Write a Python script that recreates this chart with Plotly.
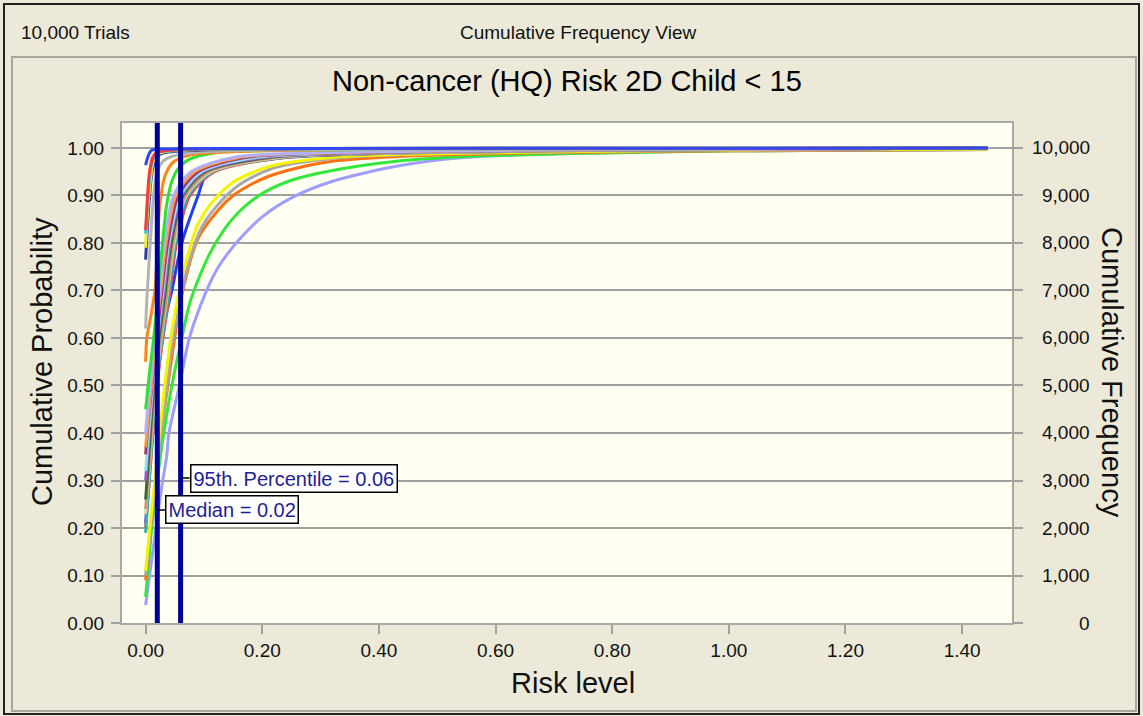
import plotly.graph_objects as go

# ---------------- data ----------------
TITLE = "Non-cancer (HQ) Risk 2D Child < 15"
HEADER_LEFT = "10,000 Trials"
HEADER_CENTER = "Cumulative Frequency View"

X_TICKS = [0.0, 0.2, 0.4, 0.6, 0.8, 1.0, 1.2, 1.4]
Y_TICKS = [0.0, 0.1, 0.2, 0.3, 0.4, 0.5, 0.6, 0.7, 0.8, 0.9, 1.0]
FREQ_TICKS = [0, 1000, 2000, 3000, 4000, 5000, 6000, 7000, 8000, 9000, 10000]
FREQ_LABELS = ["0", "1,000", "2,000", "3,000", "4,000", "5,000",
               "6,000", "7,000", "8,000", "9,000", "10,000"]

MEDIAN = 0.02
P95 = 0.06

# slow-rising curves
x_lavender_slow = [0, 0.010, 0.019, 0.028, 0.036, 0.040, 0.058, 0.075, 0.093, 0.110, 0.125, 0.159, 0.200, 0.250, 0.318, 0.432, 0.546, 0.75, 1.0, 1.444]
p_lavender_slow = [0.038, 0.13, 0.21, 0.29, 0.35, 0.40, 0.50, 0.60, 0.665, 0.715, 0.75, 0.805, 0.855, 0.895, 0.929, 0.962, 0.980, 0.989, 0.994, 0.997]

x_green_slow = [0, 0.006, 0.012, 0.022, 0.031, 0.045, 0.062, 0.076, 0.090, 0.105, 0.120, 0.145, 0.170, 0.204, 0.250, 0.318, 0.43, 0.55, 0.8, 1.0, 1.444]
p_green_slow = [0.055, 0.14, 0.22, 0.32, 0.40, 0.50, 0.60, 0.675, 0.722, 0.765, 0.80, 0.845, 0.877, 0.907, 0.932, 0.952, 0.972, 0.982, 0.99, 0.994, 0.997]

x_orange_slow = [0, 0.006, 0.012, 0.018, 0.025, 0.037, 0.045, 0.062, 0.090, 0.125, 0.150, 0.176, 0.210, 0.260, 0.320, 0.45, 0.7, 1.0, 1.444]
p_orange_slow = [0.09, 0.17, 0.24, 0.31, 0.39, 0.49, 0.56, 0.69, 0.81, 0.87, 0.90, 0.92, 0.94, 0.958, 0.972, 0.983, 0.99, 0.994, 0.997]

x_gray_slow = [0, 0.005, 0.010, 0.018, 0.026, 0.035, 0.046, 0.055, 0.070, 0.095, 0.120, 0.160, 0.220, 0.320, 0.45, 0.7, 1.0, 1.444]
p_gray_slow = [0.10, 0.16, 0.22, 0.30, 0.39, 0.48, 0.59, 0.65, 0.74, 0.83, 0.875, 0.922, 0.958, 0.978, 0.986, 0.991, 0.995, 0.997]

x_yellow_slow = [0, 0.004, 0.009, 0.016, 0.023, 0.031, 0.042, 0.050, 0.065, 0.090, 0.113, 0.150, 0.215, 0.320, 0.45, 0.7, 1.0, 1.444]
p_yellow_slow = [0.11, 0.16, 0.22, 0.30, 0.39, 0.48, 0.59, 0.65, 0.74, 0.84, 0.884, 0.928, 0.962, 0.98, 0.987, 0.992, 0.996, 0.998]

# middle cluster
x_blue_mid = [0, 0.010, 0.020, 0.030, 0.045, 0.062, 0.090, 0.104, 0.160, 0.230, 0.50, 1.0, 1.444]
p_blue_mid = [0.21, 0.37, 0.50, 0.62, 0.70, 0.80, 0.90, 0.943, 0.968, 0.979, 0.992, 0.997, 1.0]

x_red_mid = [0, 0.010, 0.019, 0.031, 0.042, 0.053, 0.076, 0.118, 0.24, 0.46, 0.9, 1.444]
p_red_mid = [0.20, 0.36, 0.50, 0.61, 0.70, 0.80, 0.90, 0.95, 0.98, 0.99, 0.996, 1.0]

x_teal_mid = [0, 0.009, 0.018, 0.030, 0.040, 0.051, 0.073, 0.115, 0.235, 0.45, 0.9, 1.444]
p_teal_mid = [0.19, 0.35, 0.50, 0.61, 0.70, 0.80, 0.90, 0.95, 0.98, 0.99, 0.996, 1.0]

x_pale_mid = [0, 0.009, 0.017, 0.028, 0.038, 0.049, 0.070, 0.112, 0.23, 0.44, 0.85, 1.444]
p_pale_mid = [0.23, 0.37, 0.50, 0.61, 0.70, 0.80, 0.90, 0.95, 0.98, 0.99, 0.996, 1.0]

x_tan_mid = [0, 0.008, 0.016, 0.027, 0.037, 0.047, 0.068, 0.108, 0.22, 0.42, 0.85, 1.444]
p_tan_mid = [0.24, 0.37, 0.50, 0.61, 0.70, 0.80, 0.90, 0.95, 0.98, 0.99, 0.996, 1.0]

x_darkgreen_mid = [0, 0.007, 0.014, 0.024, 0.034, 0.044, 0.064, 0.102, 0.21, 0.40, 0.8, 1.444]
p_darkgreen_mid = [0.26, 0.38, 0.50, 0.61, 0.70, 0.80, 0.90, 0.95, 0.98, 0.99, 0.996, 1.0]

x_purple_mid = [0, 0.006, 0.013, 0.022, 0.032, 0.042, 0.062, 0.099, 0.20, 0.39, 0.8, 1.444]
p_purple_mid = [0.30, 0.40, 0.50, 0.61, 0.70, 0.80, 0.90, 0.95, 0.98, 0.99, 0.996, 1.0]

x_lightcyan_mid = [0, 0.006, 0.012, 0.021, 0.030, 0.040, 0.060, 0.096, 0.19, 0.38, 0.8, 1.444]
p_lightcyan_mid = [0.32, 0.41, 0.50, 0.61, 0.70, 0.80, 0.90, 0.95, 0.98, 0.99, 0.996, 1.0]

x_maroon_mid = [0, 0.005, 0.011, 0.020, 0.028, 0.038, 0.056, 0.090, 0.17, 0.35, 0.75, 1.444]
p_maroon_mid = [0.355, 0.43, 0.50, 0.61, 0.70, 0.80, 0.90, 0.95, 0.98, 0.99, 0.996, 1.0]

x_orange_mid = [0, 0.005, 0.010, 0.018, 0.026, 0.035, 0.052, 0.084, 0.16, 0.32, 0.7, 1.444]
p_orange_mid = [0.37, 0.44, 0.50, 0.61, 0.70, 0.80, 0.90, 0.95, 0.98, 0.99, 0.996, 1.0]

x_lavender_mid = [0, 0.004, 0.008, 0.016, 0.024, 0.032, 0.048, 0.078, 0.15, 0.30, 0.7, 1.444]
p_lavender_mid = [0.40, 0.46, 0.50, 0.61, 0.70, 0.80, 0.90, 0.95, 0.98, 0.99, 0.996, 1.0]

# fast-rising curves
x_green_fast = [0, 0.006, 0.012, 0.018, 0.023, 0.029, 0.036, 0.045, 0.055, 0.073, 0.12, 0.25, 0.6, 1.444]
p_green_fast = [0.45, 0.52, 0.58, 0.65, 0.72, 0.80, 0.88, 0.93, 0.955, 0.975, 0.99, 0.995, 0.998, 1.0]

x_orange_fast = [0, 0.002, 0.008, 0.016, 0.020, 0.024, 0.033, 0.047, 0.08, 0.2, 0.5, 1.444]
p_orange_fast = [0.55, 0.60, 0.64, 0.70, 0.79, 0.876, 0.94, 0.97, 0.986, 0.994, 0.998, 1.0]

x_gray_fast = [0, 0.002, 0.005, 0.009, 0.013, 0.019, 0.030, 0.045, 0.10, 0.3, 1.444]
p_gray_fast = [0.62, 0.68, 0.74, 0.82, 0.89, 0.947, 0.972, 0.982, 0.992, 0.997, 1.0]

x_navy_fast = [0, 0.004, 0.009, 0.015, 0.025, 0.08, 0.3, 1.444]
p_navy_fast = [0.765, 0.85, 0.93, 0.97, 0.987, 0.995, 0.999, 1.0]

x_yellow_fast = [0, 0.003, 0.008, 0.013, 0.022, 0.07, 0.3, 1.444]
p_yellow_fast = [0.79, 0.86, 0.93, 0.97, 0.988, 0.996, 0.999, 1.0]

x_cyan_fast = [0, 0.003, 0.007, 0.012, 0.020, 0.06, 0.3, 1.444]
p_cyan_fast = [0.82, 0.88, 0.94, 0.975, 0.99, 0.996, 0.999, 1.0]

x_red_fast = [0, 0.002, 0.005, 0.008, 0.012, 0.018, 0.05, 0.3, 1.444]
p_red_fast = [0.827, 0.87, 0.93, 0.96, 0.98, 0.99, 0.996, 0.999, 1.0]

x_blue_top = [0, 0.003, 0.006, 0.010, 0.030, 0.2, 1.444]
p_blue_top = [0.964, 0.978, 0.988, 0.995, 0.998, 0.999, 1.0]

SERIES = [
    (x_lavender_slow, p_lavender_slow, "#9E9EFF"),
    (x_green_slow, p_green_slow, "#33E83A"),
    (x_orange_slow, p_orange_slow, "#FF7010"),
    (x_gray_slow, p_gray_slow, "#A8A8A8"),
    (x_yellow_slow, p_yellow_slow, "#F4F400"),
    (x_blue_mid, p_blue_mid, "#2040F0"),
    (x_red_mid, p_red_mid, "#F04848"),
    (x_teal_mid, p_teal_mid, "#30B0B0"),
    (x_pale_mid, p_pale_mid, "#D8D2B8"),
    (x_tan_mid, p_tan_mid, "#C89A68"),
    (x_darkgreen_mid, p_darkgreen_mid, "#3A6A32"),
    (x_purple_mid, p_purple_mid, "#9A5AC8"),
    (x_lightcyan_mid, p_lightcyan_mid, "#8EE0F8"),
    (x_maroon_mid, p_maroon_mid, "#A03A70"),
    (x_orange_mid, p_orange_mid, "#FF9A40"),
    (x_lavender_mid, p_lavender_mid, "#B0B0FF"),
    (x_green_fast, p_green_fast, "#30E030"),
    (x_orange_fast, p_orange_fast, "#FF8418"),
    (x_gray_fast, p_gray_fast, "#B4B4B4"),
    (x_navy_fast, p_navy_fast, "#2A3AA8"),
    (x_yellow_fast, p_yellow_fast, "#EEEE30"),
    (x_cyan_fast, p_cyan_fast, "#30C8C8"),
    (x_red_fast, p_red_fast, "#FF3838"),
    (x_blue_top, p_blue_top, "#3048F0"),
]

# ---------------- geometry ----------------
W, H = 1143, 716
ML, MR, MT, MB = 122, 131, 123, 93
PW, PH = W - ML - MR, H - MT - MB
X_RANGE = [-0.0405, 1.4855]
Y_RANGE = [0.0, 1.0526]


def px(xp):
    return (xp - ML) / PW


def py(yp):
    return (H - MB - yp) / PH


FONT = "Arial, Liberation Sans, sans-serif"

fig = go.Figure()

for xs, ps, col in SERIES:
    fig.add_trace(go.Scatter(
        x=xs, y=ps, mode="lines",
        line=dict(color=col, width=3, shape="spline", smoothing=0.8),
        hoverinfo="skip", showlegend=False,
    ))

for v in (MEDIAN, P95):
    fig.add_trace(go.Scatter(
        x=[v, v], y=Y_RANGE, mode="lines",
        line=dict(color="#00009A", width=5),
        hoverinfo="skip", showlegend=False,
    ))

# invisible trace to activate the right axis
fig.add_trace(go.Scatter(x=[0], y=[0], yaxis="y2", mode="markers",
                         marker=dict(opacity=0), hoverinfo="skip", showlegend=False))

annotations = [
    dict(text=HEADER_LEFT, xref="paper", yref="paper", x=px(19), y=py(32),
         xanchor="left", yanchor="middle", showarrow=False,
         font=dict(family=FONT, size=19, color="#111111")),
    dict(text=HEADER_CENTER, xref="paper", yref="paper", x=px(578), y=py(32),
         xanchor="center", yanchor="middle", showarrow=False,
         font=dict(family=FONT, size=19, color="#111111")),
    dict(text=TITLE, xref="paper", yref="paper", x=px(567), y=py(81),
         xanchor="center", yanchor="middle", showarrow=False,
         font=dict(family=FONT, size=29, color="#000000")),
    dict(text="Cumulative Probability", xref="paper", yref="paper", x=px(42), y=py(362),
         xanchor="center", yanchor="middle", textangle=-90, showarrow=False,
         font=dict(family=FONT, size=29, color="#111111")),
    dict(text="Cumulative Frequency", xref="paper", yref="paper", x=px(1112), y=py(372),
         xanchor="center", yanchor="middle", textangle=90, showarrow=False,
         font=dict(family=FONT, size=29, color="#111111")),
    dict(text="Risk level", xref="paper", yref="paper", x=px(573), y=py(683),
         xanchor="center", yanchor="middle", showarrow=False,
         font=dict(family=FONT, size=29, color="#111111")),
    dict(text="95th. Percentile = 0.06", x=P95, y=0.305, xref="x", yref="y",
         showarrow=True, arrowhead=0, arrowwidth=1.5, arrowcolor="#000000",
         ax=9, ay=0, xanchor="left", yanchor="middle",
         bgcolor="#FFFFFF", bordercolor="#000000", borderwidth=1.5, borderpad=2,
         font=dict(family=FONT, size=20, color="#1E1E96")),
    dict(text="Median = 0.02", x=MEDIAN, y=0.238, xref="x", yref="y",
         showarrow=True, arrowhead=0, arrowwidth=1.5, arrowcolor="#000000",
         ax=8, ay=0, xanchor="left", yanchor="middle",
         bgcolor="#FFFFFF", bordercolor="#000000", borderwidth=1.5, borderpad=2,
         font=dict(family=FONT, size=20, color="#1E1E96")),
]
for v, lab in zip(FREQ_TICKS, FREQ_LABELS):
    annotations.append(dict(text=lab, xref="paper", yref="y2", x=px(1092), y=v,
                            xanchor="right", yanchor="middle", showarrow=False,
                            font=dict(family=FONT, size=19, color="#111111")))

shapes = [
    dict(type="rect", xref="paper", yref="paper", x0=px(4), x1=px(1139), y0=py(4), y1=py(714),
         line=dict(color="#202020", width=2), layer="below"),
    dict(type="rect", xref="paper", yref="paper", x0=px(12), x1=px(1136), y0=py(57), y1=py(711),
         line=dict(color="#A9A79C", width=2), layer="below"),
]

fig.update_layout(
    width=W, height=H,
    margin=dict(l=ML, r=MR, t=MT, b=MB, pad=0),
    paper_bgcolor="#ECE9D8",
    plot_bgcolor="#FFFFF2",
    font=dict(family=FONT, size=19, color="#111111"),
    showlegend=False,
    xaxis=dict(
        range=X_RANGE, tickvals=X_TICKS, tickformat=".2f",
        showgrid=False, zeroline=False,
        ticks="outside", ticklen=9, tickwidth=2, tickcolor="#A0A0A0",
        showline=True, linecolor="#A8A8A8", linewidth=2, mirror=True,
        tickfont=dict(family=FONT, size=19, color="#111111"),
    ),
    yaxis=dict(
        range=Y_RANGE, tickvals=Y_TICKS, tickformat=".2f",
        showgrid=True, gridcolor="#A0A0A0", gridwidth=2, zeroline=False,
        ticks="outside", ticklen=9, tickwidth=2, tickcolor="#A0A0A0",
        showline=True, linecolor="#A8A8A8", linewidth=2, mirror=True,
        ticklabelstandoff=3,
        tickfont=dict(family=FONT, size=19, color="#111111"),
    ),
    yaxis2=dict(
        range=[Y_RANGE[0] * 10000, Y_RANGE[1] * 10000], tickvals=FREQ_TICKS,
        overlaying="y", side="right", showgrid=False, zeroline=False,
        ticks="outside", ticklen=10, tickwidth=2, tickcolor="#A0A0A0",
        showticklabels=False, showline=False,
    ),
    annotations=annotations,
    shapes=shapes,
)

fig.write_html("out.html", config={"displayModeBar": False},
               post_script="document.body.style.margin='0';document.body.style.overflow='hidden';")
